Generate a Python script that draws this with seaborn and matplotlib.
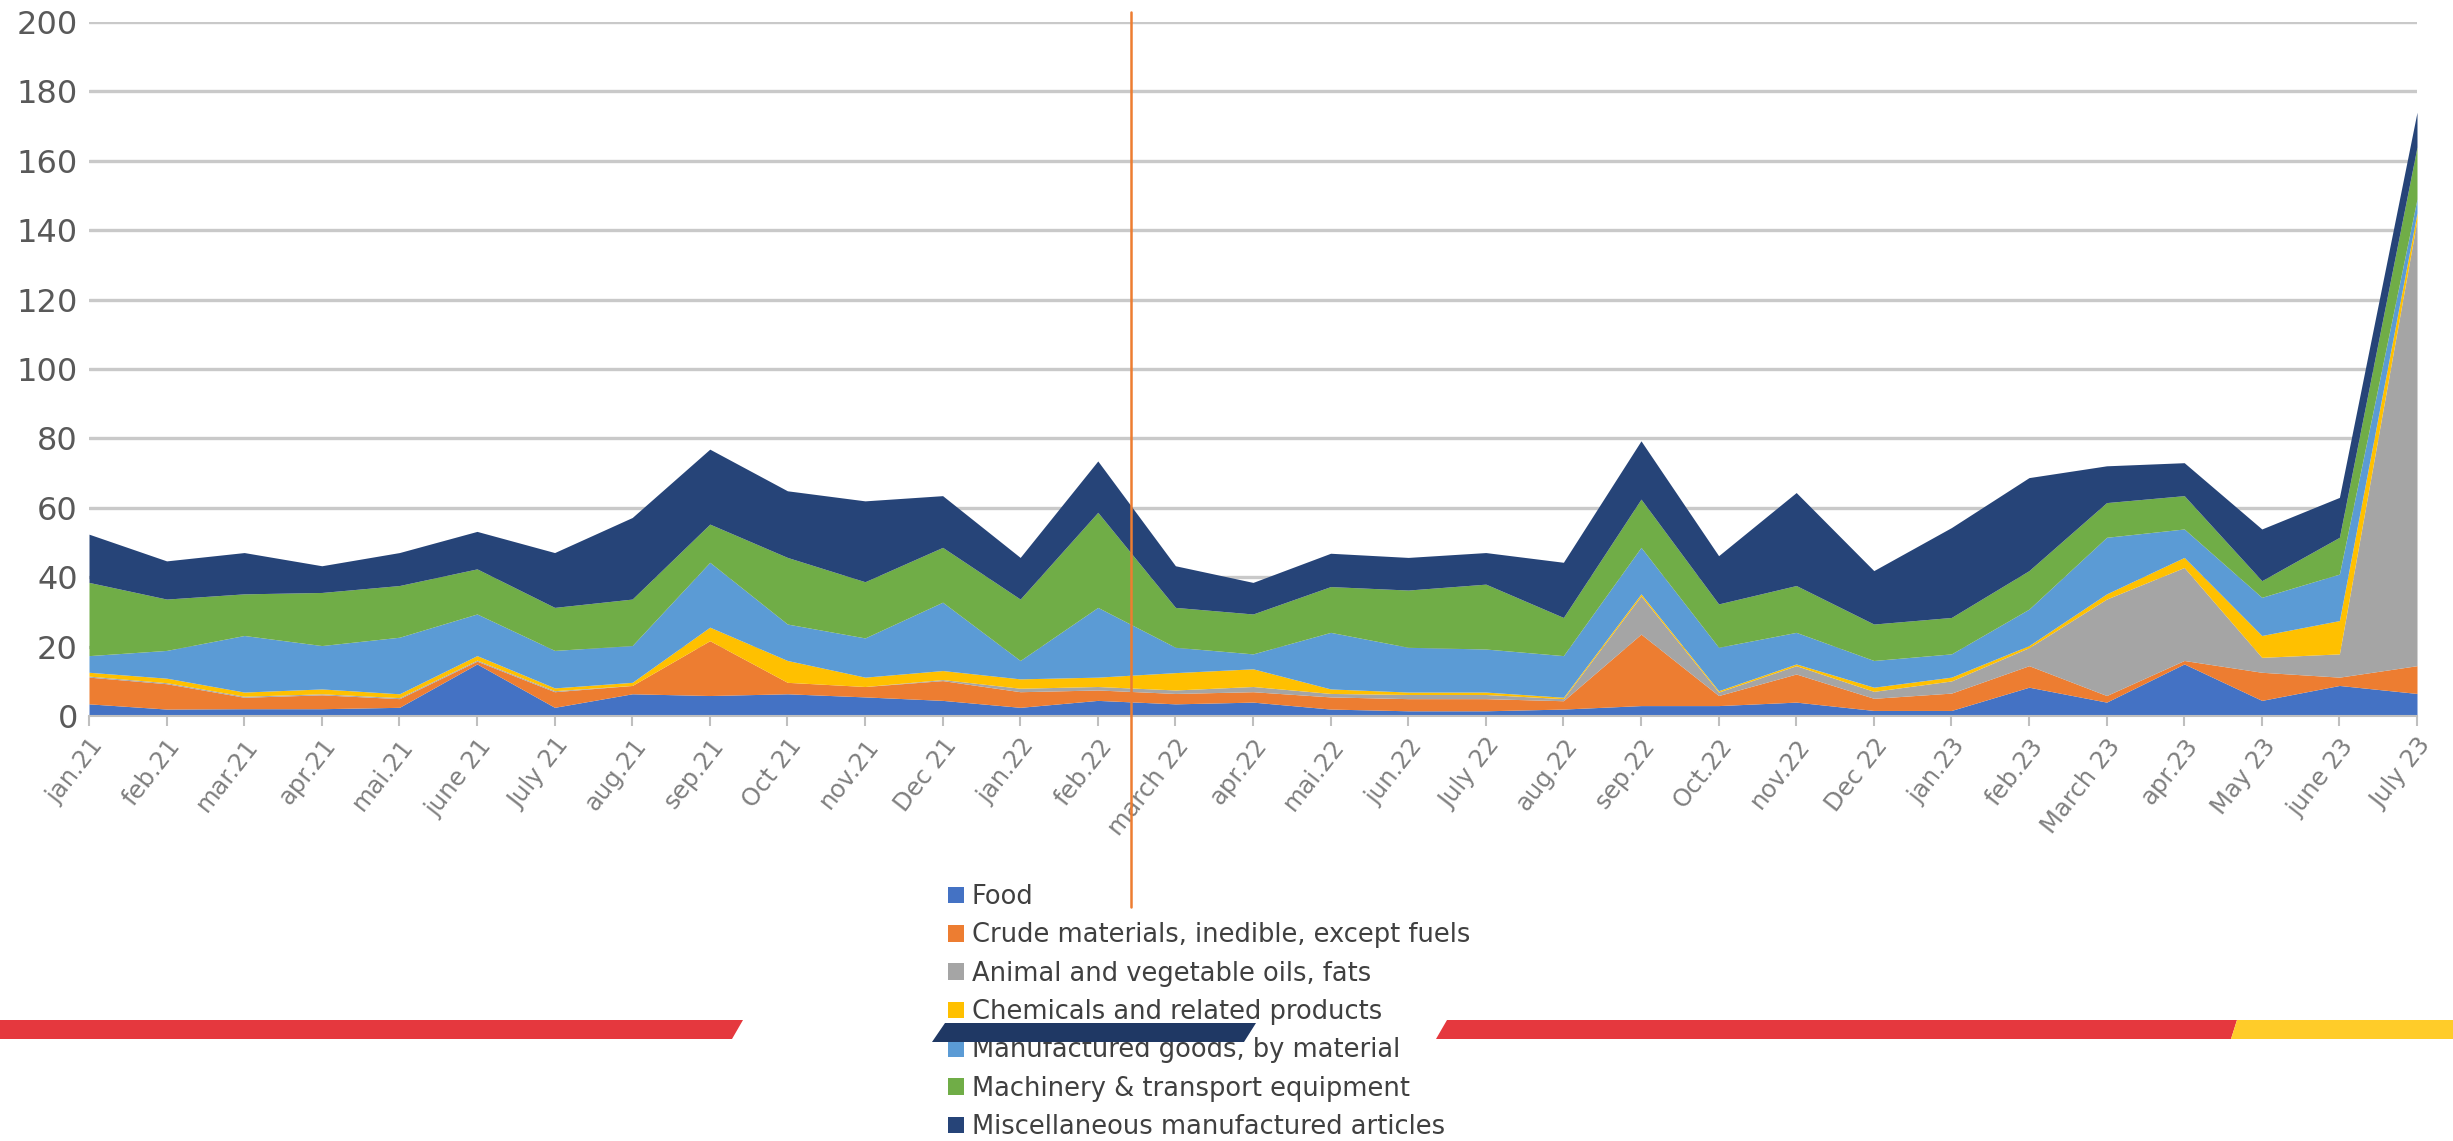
import numpy as np
import pandas as pd
import matplotlib.pyplot as plt
import seaborn as sns
from matplotlib.patches import Polygon

# Meses del eje X
months = ["jan.21", "feb.21", "mar.21", "apr.21", "mai.21", "june 21", "July 21",
          "aug.21", "sep.21", "Oct 21", "nov.21", "Dec 21", "jan.22", "feb.22",
          "march 22", "apr.22", "mai.22", "jun.22", "July 22", "aug.22", "sep.22",
          "Oct.22", "nov.22", "Dec 22", "jan.23", "feb.23", "March 23", "apr.23",
          "May 23", "june 23", "July 23"]

# Series
food = [3.5, 2, 2.1, 2.1, 2.5, 15, 2.5, 6.4, 5.9, 6.4, 5.5, 4.5, 2.5, 4.5, 3.5, 4,
        2, 1.5, 1.5, 2, 3, 3, 4, 1.6, 1.6, 8.3, 4, 15, 4.5, 8.8, 6.5]
crude = [7.7, 7.3, 3.3, 4, 2.5, 0.8, 4.5, 2.4, 15.8, 3.3, 3, 5.7, 4.5, 3, 3, 3,
         3.5, 3.5, 3.5, 2.4, 20.6, 2.9, 8.1, 3.5, 5, 6.2, 1.9, 1, 8.1, 2.4, 8]
animal = [0.3, 0.3, 0.3, 0.3, 0.3, 0.3, 0.3, 0, 0, 0, 0, 0.3, 1, 1, 1, 1.5,
          1, 1.2, 1.2, 0.6, 11, 1, 2.4, 2, 3.5, 5.2, 27.8, 26.8, 4.3, 6.7, 128.5]
chemicals = [1.1, 1.3, 1.2, 1.4, 1.1, 1.3, 0.8, 0.9, 3.9, 6.3, 2.7, 2.6, 2.7, 2.7, 5, 5.1,
             1.3, 0.7, 0.7, 0.4, 0.6, 0.4, 0.5, 1.2, 1.1, 0.6, 1.5, 2.9, 6.3, 9.6, 2]
manufactured = [4.8, 8, 16.3, 12.5, 16.3, 12, 10.8, 10.6, 18.7, 10.5, 11.3, 19.7, 5.3, 20.1,
                7.3, 4.3, 16.3, 12.9, 12.4, 12, 13.4, 12.5, 9.1, 7.7, 6.7, 10.5, 16.3, 8.2,
                11, 13.4, 4]
machinery = [21.1, 14.8, 12, 15.3, 14.9, 13, 12.4, 13.4, 11, 19.2, 16.2, 15.8, 17.7, 27.4,
             11.5, 11.5, 13.2, 16.5, 18.7, 11, 13.9, 12.5, 13.5, 10.5, 10.5, 11.1, 10, 9.6,
             4.8, 10.6, 15]
misc = [13.9, 11, 11.9, 7.7, 9.5, 10.8, 15.8, 23.5, 21.6, 19.2, 23.3, 14.9, 12, 14.8, 12,
        9.1, 9.6, 9.4, 9.1, 15.9, 16.8, 13.9, 26.8, 15.4, 25.9, 26.8, 10.6, 9.5, 14.9,
        11.5, 10]

series_names = ["Food", "Crude materials, inedible, except fuels", "Animal and vegetable oils, fats",
                "Chemicals and related products", "Manufactured goods, by material",
                "Machinery & transport equipment", "Miscellaneous manufactured articles"]

# Posición de la línea vertical naranja (en meses)
marker_month = 13.43

df = pd.DataFrame(dict(zip(series_names, [food, crude, animal, chemicals,
                                           manufactured, machinery, misc])), index=months)

sns.set_theme(style="white")
plt.rcParams["font.family"] = ["DejaVu Sans"]
colors = sns.color_palette(["#4472C4", "#ED7D31", "#A5A5A5", "#FFC000",
                            "#5B9BD5", "#70AD47", "#264478"])

W, H = 2453, 1141
fig = plt.figure(figsize=(W / 100, H / 100), dpi=100)
ax = fig.add_axes([89 / W, 1 - 716 / H, (2417 - 89) / W, (716 - 22) / H])

x = np.arange(len(months))
ax.stackplot(x, df.T.values, labels=series_names, colors=colors, linewidth=0)

ax.set_xlim(0, len(months) - 1)
ax.set_ylim(0, 200)
ax.set_yticks(range(0, 201, 20))
ax.set_xticks(x)
ax.set_xticklabels(months, rotation=52, ha="right", va="top", rotation_mode="anchor",
                   fontsize=17.5, color="#7F7F7F")
ax.tick_params(axis="y", left=False, length=0, pad=8, labelsize=23, labelcolor="#595959")
ax.tick_params(axis="x", bottom=True, length=7, width=1.5, color="#BFBFBF", pad=6)
ax.yaxis.grid(True, color="#C9C9C9", linewidth=2.4)
ax.xaxis.grid(False)
ax.set_axisbelow(True)
for s in ["top", "right", "left"]:
    ax.spines[s].set_visible(False)
ax.spines["bottom"].set_color("#BFBFBF")
ax.spines["bottom"].set_linewidth(1.5)

# Línea vertical naranja
ax.axvline(marker_month, ymin=-0.275, ymax=1.014, color="#ED7D31", lw=1.8,
           clip_on=False, zorder=7)

# Leyenda
handles, labels = ax.get_legend_handles_labels()
leg = fig.legend(handles, labels, loc="upper left", bbox_to_anchor=(948 / W, 1 - 884 / H),
                 frameon=False, fontsize=18.5, handlelength=0.63, handleheight=0.63,
                 handletextpad=0.3, labelspacing=0.48, borderpad=0, borderaxespad=0)
for t in leg.get_texts():
    t.set_color("#404040")


# Franjas decorativas de la diapositiva
def franja(pts, color):
    fig.add_artist(Polygon([(px / W, 1 - py / H) for px, py in pts], closed=True,
                           facecolor=color, edgecolor="none", transform=fig.transFigure,
                           zorder=8))


franja([(0, 1020), (743, 1020), (732, 1039), (0, 1039)], "#E5383E")
franja([(945, 1023), (1256, 1023), (1244, 1042), (932, 1042)], "#1F3864")
franja([(1447, 1020), (2237, 1020), (2231, 1039), (1436, 1039)], "#E5383E")
franja([(2237, 1020), (W, 1020), (W, 1039), (2231, 1039)], "#FFCC29")

fig.savefig("out.png", dpi=100)
